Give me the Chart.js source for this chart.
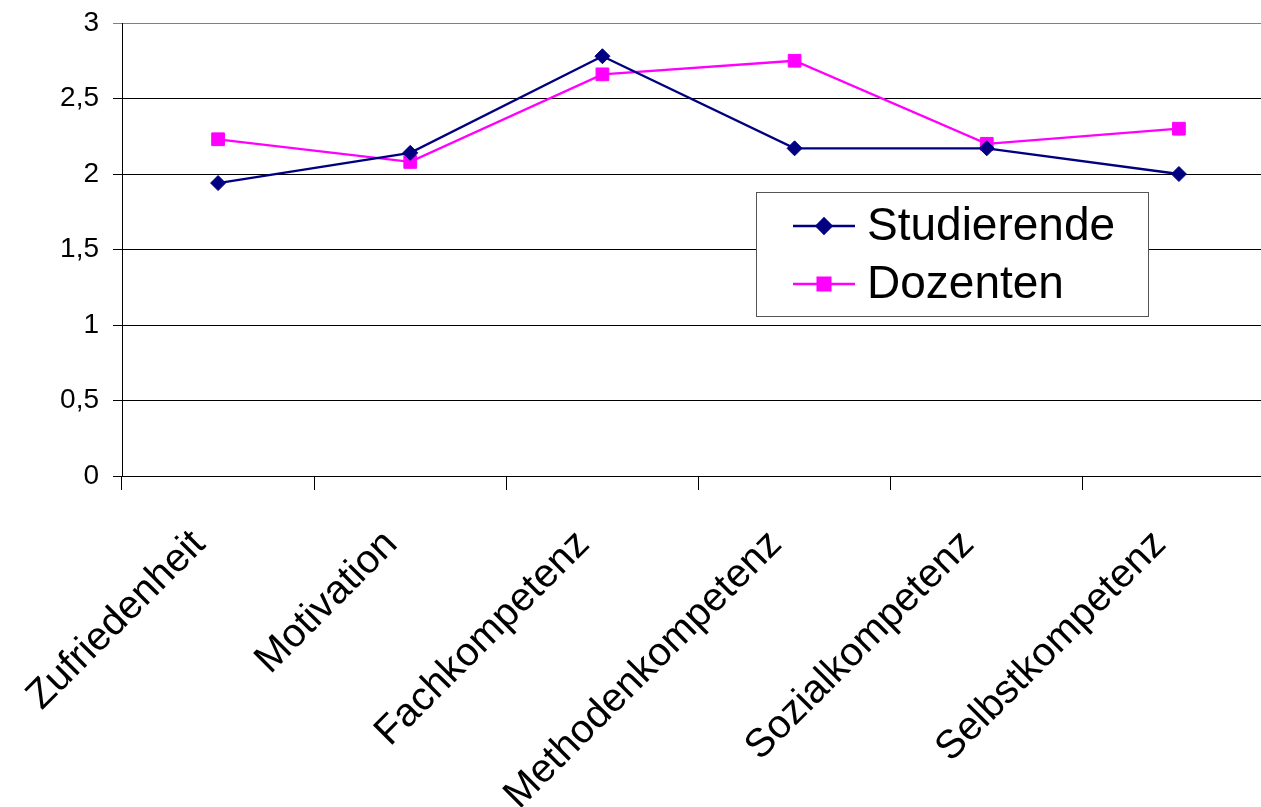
<!DOCTYPE html>
<html lang="de">
<head>
<meta charset="utf-8">
<title>Kompetenzen – Studierende und Dozenten</title>
<script src="https://cdn.jsdelivr.net/npm/chart.js@4.4.1/dist/chart.umd.min.js"></script>
<style>
  html, body { margin: 0; padding: 0; background: #fff; overflow: hidden; }
  #wrap { width: 1261px; height: 807px; overflow: hidden; position: relative; }
  canvas { display: block; }
</style>
</head>
<body>
<div id="wrap"><canvas id="chart" width="1290" height="807"></canvas></div>
<script>
// Kategorien (x-Achse)
const categories = ['Zufriedenheit', 'Motivation', 'Fachkompetenz', 'Methodenkompetenz', 'Sozialkompetenz', 'Selbstkompetenz'];

// Mittelwerte je Gruppe
const studierende = [1.94, 2.14, 2.78, 2.17, 2.17, 2.00];
const dozenten    = [2.23, 2.08, 2.66, 2.75, 2.20, 2.30];

// Skala der y-Achse
const yMin = 0;
const yMax = 3;
const yStep = 0.5;

const FONT = '"Liberation Sans", Arial, Helvetica, sans-serif';

// Legende als Kasten innerhalb der Zeichenfläche
const boxLegend = {
  id: 'boxLegend',
  afterDatasetsDraw(chart) {
    const ctx = chart.ctx;
    const x0 = 756, y0 = 192, w = 392, h = 124;
    ctx.save();
    ctx.fillStyle = '#fff';
    ctx.fillRect(x0, y0, w, h);
    ctx.strokeStyle = '#555';
    ctx.lineWidth = 1;
    ctx.strokeRect(x0 + 0.5, y0 + 0.5, w, h);
    chart.data.datasets.forEach((ds, i) => {
      const cy = 226 + i * 58;
      ctx.strokeStyle = ds.borderColor;
      ctx.lineWidth = ds.borderWidth;
      ctx.beginPath();
      ctx.moveTo(793, cy);
      ctx.lineTo(855, cy);
      ctx.stroke();
      ctx.fillStyle = ds.pointBackgroundColor;
      ctx.strokeStyle = ds.pointBorderColor;
      Chart.helpers.drawPoint(ctx, {
        pointStyle: ds.pointStyle,
        radius: ds.pointRadius,
        borderWidth: 1,
        rotation: 0
      }, 824, cy);
      ctx.fillStyle = '#000';
      ctx.font = '46px ' + FONT;
      ctx.textAlign = 'left';
      ctx.textBaseline = 'middle';
      ctx.fillText(ds.label, 867, cy + 1);
    });
    ctx.restore();
  }
};

new Chart(document.getElementById('chart'), {
  type: 'line',
  data: {
    labels: categories,
    datasets: [
      {
        label: 'Studierende',
        data: studierende,
        borderColor: '#000080',
        backgroundColor: '#000080',
        pointBackgroundColor: '#000080',
        pointBorderColor: '#000080',
        pointStyle: 'rectRot',
        pointRadius: 7.5,
        pointBorderWidth: 1,
        borderWidth: 2.3,
        tension: 0,
        fill: false
      },
      {
        label: 'Dozenten',
        data: dozenten,
        borderColor: '#FF00FF',
        backgroundColor: '#FF00FF',
        pointBackgroundColor: '#FF00FF',
        pointBorderColor: '#FF00FF',
        pointStyle: 'rect',
        pointRadius: 9,
        pointBorderWidth: 1,
        borderWidth: 2.3,
        tension: 0,
        fill: false
      }
    ]
  },
  options: {
    responsive: false,
    animation: false,
    layout: { padding: { top: 23, right: 15, bottom: 0, left: 0 } },
    plugins: {
      legend: { display: false },
      tooltip: { enabled: false }
    },
    scales: {
      x: {
        offset: true,
        grid: {
          offset: true,
          drawOnChartArea: false,
          drawTicks: true,
          tickLength: 14,
          color: '#000',
          lineWidth: 1
        },
        border: { color: '#000', width: 1 },
        ticks: {
          autoSkip: false,
          minRotation: 45,
          maxRotation: 45,
          padding: 31,
          labelOffset: -19,
          color: '#000',
          font: { family: FONT, size: 40 }
        },
        afterFit(scale) { scale.height = 331; }
      },
      y: {
        min: yMin,
        max: yMax,
        grid: {
          color: (c) => (c.tick && c.tick.value === yMax ? '#808080' : '#000'),
          lineWidth: 1,
          tickLength: 9,
          drawTicks: true
        },
        border: { color: '#000', width: 1 },
        ticks: {
          stepSize: yStep,
          padding: 14,
          color: '#000',
          font: { family: FONT, size: 28 },
          callback: (v) => String(v).replace('.', ',')
        },
        afterFit(scale) {
          scale.width = 122;
          scale.paddingTop = 0;
          scale.paddingBottom = 0;
        }
      }
    }
  },
  plugins: [boxLegend]
});
</script>
</body>
</html>
